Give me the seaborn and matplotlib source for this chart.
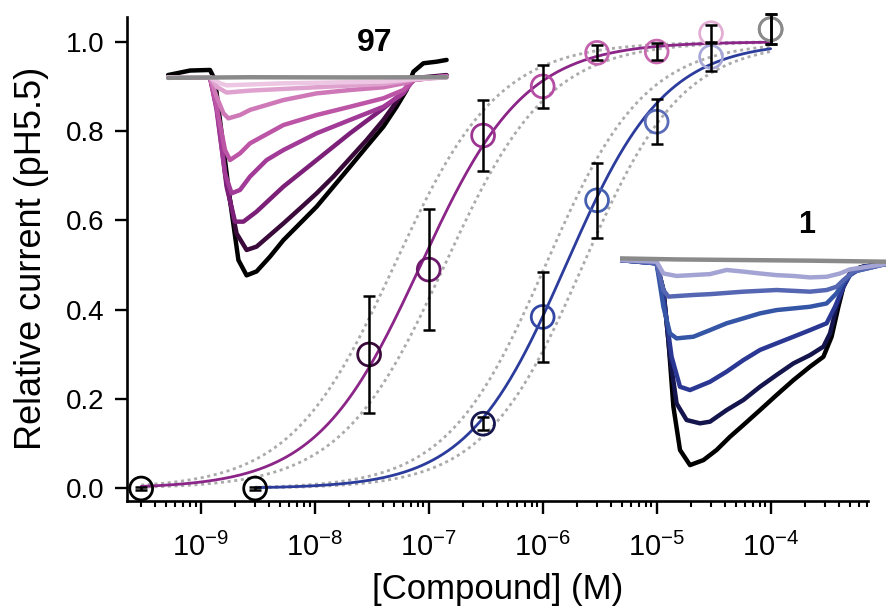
import matplotlib
matplotlib.use("Agg")
import numpy as np
import pandas as pd
import seaborn as sns
import matplotlib.pyplot as plt
from matplotlib.ticker import FixedLocator, LogLocator, NullFormatter, FuncFormatter

# ---------------- concentration-response data ----------------
conc_97 = [3e-10, 3e-8, 1e-7, 3e-7, 1e-6, 3e-6, 1e-5, 3e-5, 1e-4]
rel_97 = [0.0, 0.30, 0.49, 0.79, 0.90, 0.975, 0.978, 1.019, 1.028]
err_97 = [0.003, 0.13, 0.135, 0.08, 0.048, 0.017, 0.019, 0.019, 0.033]
col_97 = ["#000000", "#3a0b3a", "#6e1a6c", "#9c3592", "#b64ca3", "#c562ae",
          "#c869b1", "#e3aed4", "#8a8a8a"]

conc_1 = [3e-9, 3e-7, 1e-6, 3e-6, 1e-5, 3e-5, 1e-4]
rel_1 = [0.0, 0.145, 0.384, 0.645, 0.821, 0.966, 1.028]
err_1 = [0.003, 0.015, 0.10, 0.084, 0.05, 0.031, 0.033]
col_1 = ["#000000", "#17174f", "#3446a4", "#4560b0", "#5a6cb8", "#a8a8d8", "#8a8a8a"]

# Hill fits (EC50, slope) and the EC50 bounds drawn as dotted curves
fit_97 = dict(ec50=8.5e-8, hill=0.95, lo=5.0e-8, hi=1.38e-7, start=3e-10, stop=1e-4)
fit_1 = dict(ec50=1.6e-6, hill=1.0, lo=1.06e-6, hi=2.26e-6, start=3e-9, stop=1e-4)
fit_colors = {"97": "#8b2587", "1": "#2c3c9c"}

x_major = [1e-9, 1e-8, 1e-7, 1e-6, 1e-5, 1e-4]
y_major = [0.0, 0.2, 0.4, 0.6, 0.8, 1.0]

# ---------------- current traces (time in s, current normalised) ----------------
t97_ctrl = [0.0, 1.1, 2.1, 2.35, 2.68, 3.1, 3.52, 3.93, 4.43, 5.1, 5.77, 6.6, 7.43,
            8.27, 9.1, 9.93, 10.77, 11.43, 11.93, 12.27, 12.77, 13.43, 13.93]
i97_ctrl = [0.008, 0.031, 0.034, -0.017, -0.288, -0.627, -0.932, -1.01, -0.99, -0.915,
            -0.831, -0.746, -0.661, -0.559, -0.458, -0.356, -0.254, -0.153, -0.068,
            0.025, 0.068, 0.076, 0.085]
t97_a = [0.0, 2.1, 2.43, 2.93, 3.43, 3.93, 4.43, 5.1, 5.77, 6.6, 7.43, 8.27, 9.1,
         9.93, 10.77, 11.43, 11.93, 12.27, 13.93]
i97_a = [-0.003, -0.003, -0.119, -0.542, -0.797, -0.881, -0.864, -0.805, -0.746,
         -0.67, -0.593, -0.508, -0.415, -0.322, -0.22, -0.127, -0.051, -0.008, 0.008]
t97_b = [0.0, 2.1, 2.43, 2.93, 3.35, 3.77, 4.43, 5.77, 7.43, 9.1, 10.77, 11.6, 12.1,
         12.43, 13.93]
i97_b = [-0.003, -0.003, -0.153, -0.559, -0.737, -0.737, -0.686, -0.559, -0.424,
         -0.288, -0.161, -0.093, -0.034, -0.008, 0.003]
t97_c = [0.0, 2.1, 2.43, 2.85, 3.18, 3.6, 4.1, 4.93, 5.77, 7.43, 9.1, 10.77, 11.77,
         12.27, 13.93]
i97_c = [-0.003, -0.003, -0.169, -0.492, -0.593, -0.576, -0.508, -0.424, -0.373,
         -0.288, -0.22, -0.153, -0.085, -0.017, 0.003]
t97_d = [0.0, 2.1, 2.43, 2.85, 3.1, 3.6, 4.1, 5.77, 7.43, 9.1, 10.77, 11.77, 12.27, 13.93]
i97_d = [-0.003, -0.003, -0.153, -0.373, -0.424, -0.39, -0.339, -0.246, -0.195,
         -0.153, -0.11, -0.068, -0.017, 0.003]
t97_e = [0.0, 2.1, 2.43, 2.77, 3.02, 3.6, 4.1, 5.77, 7.43, 9.1, 10.77, 11.93, 12.43, 13.93]
i97_e = [-0.003, -0.003, -0.102, -0.186, -0.212, -0.195, -0.169, -0.119, -0.085,
         -0.068, -0.054, -0.031, -0.008, 0.0]
t97_f = [0.0, 2.1, 2.43, 2.93, 4.1, 7.43, 10.77, 12.1, 13.93]
i97_f = [-0.003, -0.003, -0.051, -0.081, -0.071, -0.054, -0.037, -0.017, -0.003]
t97_g = [0.0, 2.1, 2.6, 2.93, 5.77, 10.77, 12.1, 13.93]
i97_g = [-0.003, -0.003, -0.034, -0.044, -0.034, -0.025, -0.014, -0.003]
t97_h = [0.0, 4.1, 9.1, 13.93]
i97_h = [-0.006, -0.003, -0.004, -0.003]
trace_col_97 = ["#000000", "#3a0b3a", "#7b1f78", "#a23a98", "#bd55a6", "#cf78b8",
                "#dfa2cf", "#ecc6e2", "#8a8a8a"]

t1_ctrl = [0.0, 1.17, 1.83, 2.17, 2.42, 2.67, 3.0, 3.5, 4.17, 4.83, 5.5, 6.17, 7.0,
           7.83, 8.67, 9.5, 10.17, 10.58, 10.92, 11.17, 11.5, 12.0, 12.67, 13.3]
i1_ctrl = [0.0, -0.003, -0.016, -0.145, -0.387, -0.71, -0.919, -0.992, -0.968, -0.919,
           -0.855, -0.798, -0.726, -0.653, -0.581, -0.516, -0.468, -0.371, -0.226,
           -0.129, -0.065, -0.035, -0.024, -0.019]
t1_a = [0.0, 1.83, 2.17, 2.5, 2.83, 3.33, 4.0, 4.5, 5.33, 6.17, 7.0, 7.83, 8.67, 9.5,
        10.17, 10.5, 10.83, 11.17, 11.5, 12.17, 13.3]
i1_a = [0.0, -0.016, -0.145, -0.468, -0.694, -0.774, -0.79, -0.782, -0.726, -0.677,
        -0.613, -0.556, -0.5, -0.46, -0.419, -0.355, -0.226, -0.129, -0.065, -0.032,
        -0.019]
t1_b = [0.0, 1.83, 2.17, 2.58, 3.0, 3.5, 4.5, 5.33, 6.17, 7.0, 7.83, 8.67, 9.5, 10.33,
        10.75, 11.17, 11.5, 12.17, 13.3]
i1_b = [0.0, -0.016, -0.177, -0.468, -0.613, -0.629, -0.589, -0.54, -0.484, -0.435,
        -0.403, -0.371, -0.339, -0.306, -0.226, -0.129, -0.073, -0.032, -0.019]
t1_c = [0.0, 1.83, 2.17, 2.5, 2.83, 3.67, 4.5, 5.33, 6.17, 7.0, 7.83, 8.67, 9.5, 10.33,
        10.83, 11.17, 11.67, 13.3]
i1_c = [0.0, -0.016, -0.226, -0.355, -0.379, -0.371, -0.339, -0.306, -0.282, -0.258,
        -0.242, -0.234, -0.226, -0.21, -0.161, -0.105, -0.056, -0.019]
t1_d = [0.0, 1.83, 2.17, 2.42, 3.67, 4.5, 6.17, 7.83, 9.5, 10.33, 10.83, 11.17, 11.67, 13.3]
i1_d = [0.0, -0.016, -0.145, -0.177, -0.169, -0.165, -0.153, -0.145, -0.153, -0.145,
        -0.129, -0.097, -0.056, -0.019]
t1_e = [0.0, 1.83, 2.17, 2.83, 4.5, 5.33, 6.17, 7.0, 7.83, 8.67, 9.5, 10.33, 11.0, 11.5, 13.3]
i1_e = [0.0, -0.008, -0.065, -0.077, -0.068, -0.048, -0.056, -0.065, -0.073, -0.077,
        -0.084, -0.081, -0.065, -0.045, -0.019]
t1_f = [0.0, 2.83, 6.17, 9.5, 13.3]
i1_f = [0.008, 0.003, 0.0, -0.003, -0.008]
trace_col_1 = ["#000000", "#15154d", "#2b3893", "#3556a6", "#5566b2", "#a4a4d4", "#8a8a8a"]

# ---------------- style ----------------
sns.set_theme(style="ticks")
plt.rcParams["font.family"] = ["Liberation Sans", "DejaVu Sans"]
plt.rcParams["mathtext.fontset"] = "custom"
plt.rcParams["mathtext.rm"] = "Liberation Sans"
plt.rcParams["mathtext.it"] = "Liberation Sans:italic"
plt.rcParams["mathtext.bf"] = "Liberation Sans:bold"
plt.rcParams["axes.unicode_minus"] = False

fig = plt.figure(figsize=(8.86, 6.13), dpi=100)
ax = fig.add_axes([0.143, 0.1827, 0.8363, 0.7901])


def hill(x, ec50, n):
    return 1.0 / (1.0 + (ec50 / x) ** n)


# fitted curves with their EC50 bounds
curve_rows = []
for name, fit in (("97", fit_97), ("1", fit_1)):
    xs = np.logspace(np.log10(fit["start"]), np.log10(fit["stop"]), 300)
    for key in ("lo", "hi"):
        curve_rows.append(pd.DataFrame({"conc": xs, "rel": hill(xs, fit[key], fit["hill"]),
                                        "curve": f"{name}_{key}"}))
bounds = pd.concat(curve_rows, ignore_index=True)
sns.lineplot(data=bounds, x="conc", y="rel", units="curve", estimator=None,
             color="#ababab", lw=2.0, ax=ax, legend=False, zorder=2)
for ln in ax.lines:
    ln.set_dashes([1.1, 1.3])

for name, fit in (("97", fit_97), ("1", fit_1)):
    xs = np.logspace(np.log10(fit["start"]), np.log10(fit["stop"]), 300)
    df = pd.DataFrame({"conc": xs, "rel": hill(xs, fit["ec50"], fit["hill"])})
    sns.lineplot(data=df, x="conc", y="rel", color=fit_colors[name], lw=2.0, ax=ax,
                 zorder=3)

# data points: open circles with error bars
for conc, rel, err, cols, tag in ((conc_97, rel_97, err_97, col_97, "97"),
                                  (conc_1, rel_1, err_1, col_1, "1")):
    pts = pd.DataFrame({"conc": conc, "rel": rel,
                        "level": [f"{tag}_{i}" for i in range(len(conc))]})
    pal = dict(zip(pts["level"], cols))
    n_before = len(ax.collections)
    sns.scatterplot(data=pts, x="conc", y="rel", hue="level", palette=pal, s=270,
                    marker="o", legend=False, ax=ax, zorder=4, clip_on=False)
    coll = ax.collections[n_before]
    coll.set_edgecolors(coll.get_facecolors())
    coll.set_facecolors("none")
    coll.set_linewidths(2.0)
    eb = ax.errorbar(conc, rel, yerr=err, fmt="none", ecolor="black", elinewidth=1.8,
                     capsize=4.5, capthick=1.8, zorder=5)
    for art in eb.lines[1] + eb.lines[2]:
        art.set_clip_on(False)

ax.set_xscale("log")
ax.set_xlim(2.24e-10, 7.1e-4)
ax.set_ylim(-0.028, 1.056)
ax.xaxis.set_major_locator(FixedLocator(x_major))
ax.xaxis.set_minor_locator(LogLocator(base=10, subs=np.arange(2, 10)))
ax.xaxis.set_minor_formatter(NullFormatter())
ax.xaxis.set_major_formatter(FuncFormatter(
    lambda v, p: r"$\mathregular{10^{%d}}$" % int(round(np.log10(v)))))
ax.yaxis.set_major_locator(FixedLocator(y_major))
ax.yaxis.set_major_formatter(FuncFormatter(lambda v, p: f"{v:.1f}"))
ax.tick_params(axis="both", which="major", direction="out", length=9, width=1.7,
               labelsize=20, color="black", labelcolor="black")
ax.tick_params(axis="x", which="major", labelsize=21, pad=14)
ax.tick_params(axis="x", which="minor", direction="out", length=4.5, width=1.5,
               color="black")
ax.tick_params(axis="y", which="major", pad=7)
sns.despine(ax=ax)
for side in ("left", "bottom"):
    ax.spines[side].set_linewidth(1.9)
    ax.spines[side].set_color("black")
ax.set_xlabel("[Compound] (M)", fontsize=25, labelpad=8, color="black")
ax.set_ylabel("Relative current (pH5.5)", fontsize=26, labelpad=12, color="black")


def draw_traces(rect, xlim, ylim, traces, colors):
    ins = fig.add_axes(rect)
    ins.patch.set_alpha(0)
    rows = []
    for k, (tt, ii) in enumerate(traces):
        rows.append(pd.DataFrame({"t": tt, "I": ii, "trace": k}))
    df = pd.concat(rows, ignore_index=True)
    sns.lineplot(data=df, x="t", y="I", hue="trace", palette=colors, estimator=None,
                 sort=False, lw=3.2, legend=False, ax=ins)
    for ln in ins.lines:
        ln.set_solid_joinstyle("round")
    ins.set_xlim(*xlim)
    ins.set_ylim(*ylim)
    ins.set_axis_off()
    return ins


draw_traces([166 / 886, 1 - 285 / 613, 283 / 886, 230 / 613], (-0.1, 14.05), (-1.059, 0.110),
            [(t97_ctrl, i97_ctrl), (t97_a, i97_a), (t97_b, i97_b), (t97_c, i97_c),
             (t97_d, i97_d), (t97_e, i97_e), (t97_f, i97_f), (t97_g, i97_g),
             (t97_h, i97_h)], trace_col_97)
draw_traces([620 / 886, 1 - 475 / 613, 266 / 886, 235 / 613], (0.0, 13.3), (-1.04, 0.097),
            [(t1_ctrl, i1_ctrl), (t1_a, i1_a), (t1_b, i1_b), (t1_c, i1_c),
             (t1_d, i1_d), (t1_e, i1_e), (t1_f, i1_f)], trace_col_1)

fig.text(375 / 886, 1 - 43 / 613, "97", ha="center", va="center", fontsize=23,
         fontweight="bold", color="black")
fig.text(807 / 886, 1 - 225 / 613, "1", ha="center", va="center", fontsize=22,
         fontweight="bold", color="black")

fig.savefig("out.png", dpi=100)
